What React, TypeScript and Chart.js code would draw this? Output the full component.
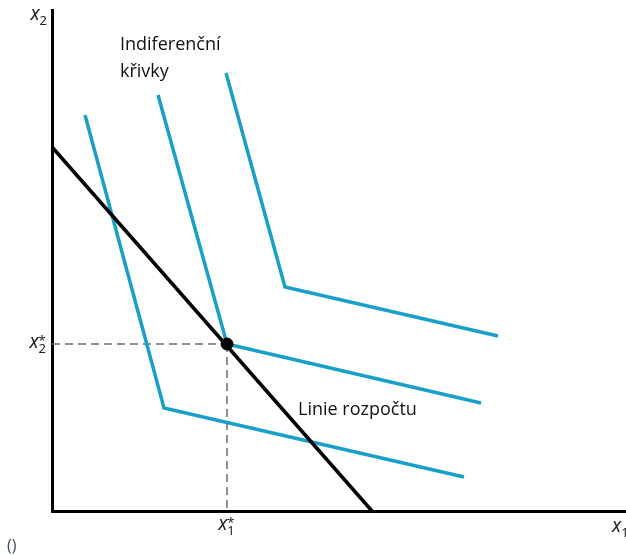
import React, { useEffect, useRef } from "react";
import { Chart, registerables } from "chart.js";

Chart.register(...registerables);

// Data in plot units (origin at axes corner)
const axisMaxX = 574;
const axisMaxY = 501;

const curve1X = [33, 112, 412];
const curve1Y = [396, 103, 34];
const curve2X = [106, 175, 429];
const curve2Y = [416, 167, 108];
const curve3X = [174, 233, 446];
const curve3Y = [438, 224, 175];

const budgetX = [0, 320];
const budgetY = [364, 0];

const optimumX = [175];
const optimumY = [167];

const guideHX = [0, 175];
const guideHY = [167, 167];
const guideVX = [175, 175];
const guideVY = [167, 0];

const icLabelLines = ["Indiferenční", "křivky"];
const icLabelPos = { x: 68, y1: 466, y2: 439 };
const budgetLabel = "Linie rozpočtu";
const budgetLabelPos = { x: 246, y: 101 };

const BLUE = "#19a0c9";

function pts(xs: number[], ys: number[]) {
  return xs.map((x, i) => ({ x, y: ys[i] }));
}

function drawVar(ctx: CanvasRenderingContext2D, x: number, y: number, sub: string, star: boolean, align: "left" | "right" | "center") {
  const mainFont = "italic 19px 'Noto Sans', 'Open Sans', sans-serif";
  const subFont = "13px 'Noto Sans', 'Open Sans', sans-serif";
  ctx.save();
  ctx.font = mainFont;
  const wx = ctx.measureText("x").width;
  ctx.font = subFont;
  const ws = ctx.measureText(sub).width;
  const total = wx + ws + 1;
  let left = x;
  if (align === "right") left = x - total;
  if (align === "center") left = x - total / 2;
  ctx.fillStyle = "#222";
  ctx.textBaseline = "alphabetic";
  ctx.textAlign = "left";
  ctx.font = mainFont;
  ctx.fillText("x", left, y);
  ctx.font = subFont;
  ctx.fillText(sub, left + wx, y + 5);
  if (star) {
    ctx.fillText("*", left + wx, y - 3);
  }
  ctx.restore();
}

const textPlugin = {
  id: "textPlugin",
  afterDraw(chart: any) {
    const ctx = chart.ctx as CanvasRenderingContext2D;
    const xs = chart.scales.x;
    const ys = chart.scales.y;
    const area = chart.chartArea;
    ctx.save();
    ctx.fillStyle = "#111";
    ctx.font = "18px 'Open Sans', 'Noto Sans', sans-serif";
    ctx.textBaseline = "middle";
    ctx.textAlign = "left";
    ctx.fillText(icLabelLines[0], xs.getPixelForValue(icLabelPos.x), ys.getPixelForValue(icLabelPos.y1));
    ctx.fillText(icLabelLines[1], xs.getPixelForValue(icLabelPos.x), ys.getPixelForValue(icLabelPos.y2));
    ctx.fillText(budgetLabel, xs.getPixelForValue(budgetLabelPos.x), ys.getPixelForValue(budgetLabelPos.y));
    ctx.restore();

    // axis names
    drawVar(ctx, area.left - 4, area.top + 10, "2", false, "right");
    drawVar(ctx, area.right - 14, area.bottom + 21, "1", false, "left");
    // optimum tick labels
    drawVar(ctx, area.left - 5, ys.getPixelForValue(optimumY[0]) + 4, "2", true, "right");
    drawVar(ctx, xs.getPixelForValue(optimumX[0]), area.bottom + 19, "1", true, "center");

    ctx.save();
    ctx.fillStyle = "#3d4b5c";
    ctx.font = "16px 'Open Sans', sans-serif";
    ctx.textBaseline = "alphabetic";
    ctx.textAlign = "left";
    ctx.fillText("()", 7, 551);
    ctx.restore();
  },
};

export default function App() {
  const ref = useRef<HTMLCanvasElement | null>(null);
  useEffect(() => {
    if (!ref.current) return;
    const lineDs = (xs: number[], ys: number[], color: string, width: number, extra: any = {}) => ({
      type: "line" as const,
      data: pts(xs, ys),
      borderColor: color,
      borderWidth: width,
      pointRadius: 0,
      fill: false,
      tension: 0,
      clip: false,
      borderJoinStyle: "miter",
      ...extra,
    });
    const chart = new Chart(ref.current, {
      type: "line",
      data: {
        datasets: [
          lineDs(guideHX, guideHY, "#6e6e6e", 1.5, { borderDash: [8, 5], order: 10 }),
          lineDs(guideVX, guideVY, "#6e6e6e", 1.5, { borderDash: [8, 5], order: 10 }),
          lineDs(curve1X, curve1Y, BLUE, 3.5, { order: 5 }),
          lineDs(curve2X, curve2Y, BLUE, 3.5, { order: 5 }),
          lineDs(curve3X, curve3Y, BLUE, 3.5, { order: 5 }),
          lineDs(budgetX, budgetY, "#000", 3.5, { order: 2 }),
          {
            type: "scatter" as const,
            data: pts(optimumX, optimumY),
            pointRadius: 6,
            pointBackgroundColor: "#000",
            pointBorderColor: "#000",
            clip: false,
            order: 0,
          } as any,
        ] as any,
      },
      options: {
        animation: false,
        responsive: false,
        maintainAspectRatio: false,
        layout: { autoPadding: false, padding: { left: 52, top: 10, right: 0, bottom: 44 } },
        plugins: { legend: { display: false }, tooltip: { enabled: false } },
        scales: {
          x: {
            type: "linear",
            min: 0,
            max: axisMaxX,
            ticks: { display: false },
            grid: { display: false, drawTicks: false },
            border: { display: true, color: "#000", width: 3 },
          },
          y: {
            type: "linear",
            min: 0,
            max: axisMaxY,
            ticks: { display: false },
            grid: { display: false, drawTicks: false },
            border: { display: true, color: "#000", width: 3 },
          },
        },
      },
      plugins: [textPlugin],
    });
    return () => chart.destroy();
  }, []);
  return (
    <div style={{ position: "fixed", left: 0, top: 0, width: 626, height: 555, background: "#fff" }}>
      <canvas ref={ref} width={626} height={555} style={{ width: 626, height: 555, display: "block" }} />
    </div>
  );
}
